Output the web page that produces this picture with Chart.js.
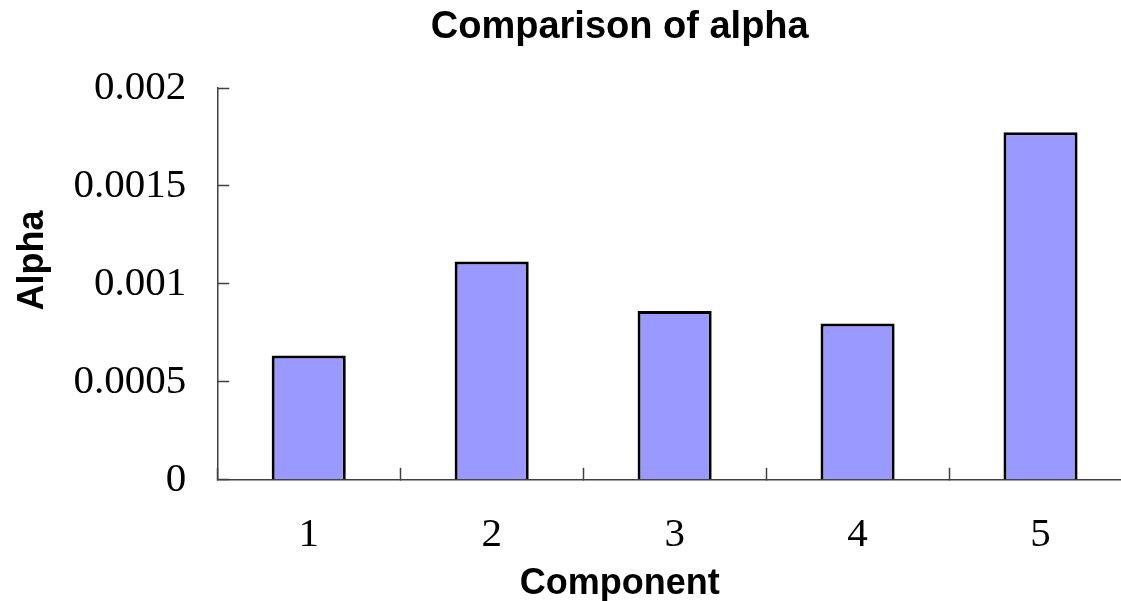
<!DOCTYPE html>
<html lang="en">
<head>
    <meta charset="UTF-8">
    <title>Comparison of alpha</title>
    <script src="https://cdn.jsdelivr.net/npm/chart.js"></script>
    <style>
        html, body { margin: 0; padding: 0; background: #fff; overflow: hidden; }
        #wrap { width: 1121px; height: 601px; overflow: hidden; }
    </style>
</head>
<body>
    <div id="wrap">
        <canvas id="myChart" width="1140" height="609"></canvas>
    </div>

<script>
    // chart data
    const components = ['1', '2', '3', '4', '5'];
    const alphaValues = [0.000635, 0.001114, 0.000862, 0.000798, 0.001774];
    const yTickLabels = ['0', '0.0005', '0.001', '0.0015', '0.002'];

    const chartTitle = 'Comparison of alpha';
    const xTitle = 'Component';
    const yTitle = 'Alpha';

    const axisColor = '#404040';
    const tickFont = { family: '"Liberation Serif", "Times New Roman", serif', size: 41 };

    // titles drawn by hand so they sit where the original has them
    const captions = {
        id: 'captions',
        afterDraw(chart) {
            const ctx = chart.ctx;
            const area = chart.chartArea;
            const cx = area.left + (area.right - area.left) * 0.44;
            const cy = area.top + (area.bottom - area.top) * 0.44;
            ctx.save();
            ctx.fillStyle = '#000';
            ctx.textAlign = 'center';
            ctx.textBaseline = 'alphabetic';
            ctx.font = 'bold 38px "Liberation Sans", Arial, sans-serif';
            ctx.fillText(chartTitle, cx, 38);
            ctx.font = 'bold 36px "Liberation Sans", Arial, sans-serif';
            ctx.fillText(xTitle, cx, area.bottom + 114);
            ctx.translate(area.left - 174, cy);
            ctx.rotate(-Math.PI / 2);
            ctx.fillText(yTitle, 0, 0);
            ctx.restore();
        }
    };

    const ctx = document.getElementById('myChart').getContext('2d');
    new Chart(ctx, {
        type: 'bar',
        data: {
            labels: components,
            datasets: [{
                label: yTitle,
                data: alphaValues,
                backgroundColor: '#9999FF',
                borderColor: '#000000',
                borderWidth: 3,
                barPercentage: 0.405,
                categoryPercentage: 1
            }]
        },
        options: {
            responsive: false,
            animation: false,
            layout: {
                padding: { left: 30.5, top: 88, right: 8, bottom: 6 }
            },
            plugins: {
                legend: { display: false },
                title: { display: false },
                tooltip: { enabled: false }
            },
            scales: {
                x: {
                    offset: true,
                    border: { display: true, color: axisColor, width: 1.5 },
                    grid: {
                        offset: true,
                        drawOnChartArea: false,
                        drawTicks: true,
                        tickLength: -12,
                        color: axisColor,
                        tickWidth: 1.5
                    },
                    ticks: {
                        color: '#000',
                        font: tickFont,
                        padding: 43,
                        maxRotation: 0
                    }
                },
                y: {
                    min: 0,
                    max: 0.002,
                    border: { display: true, color: axisColor, width: 1.5 },
                    grid: {
                        drawOnChartArea: false,
                        drawTicks: true,
                        tickLength: -12,
                        color: axisColor,
                        tickWidth: 1.5
                    },
                    ticks: {
                        stepSize: 0.0005,
                        color: '#000',
                        font: tickFont,
                        padding: 43,
                        callback: (value, index) => yTickLabels[index]
                    }
                }
            }
        },
        plugins: [captions]
    });
</script>
</body>
</html>
